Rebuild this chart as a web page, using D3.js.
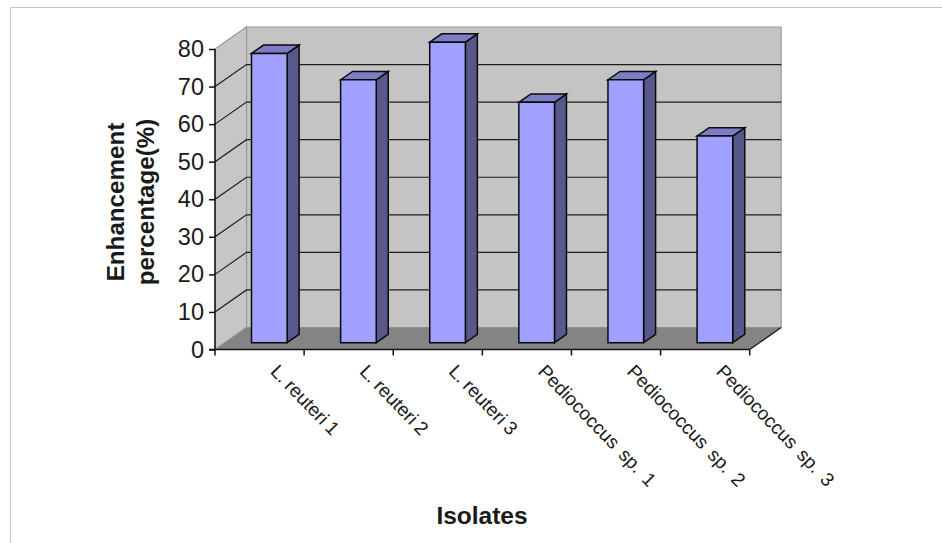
<!DOCTYPE html>
<html>
<head>
<meta charset="utf-8">
<script src="https://cdn.jsdelivr.net/npm/d3@7"></script>
<style>
  html, body { margin: 0; padding: 0; background: #fff; }
  svg { display: block; }
  text { font-family: "Liberation Sans", Arial, sans-serif; fill: #1a1a1a; }
</style>
</head>
<body>
<svg id="chart" width="942" height="543"></svg>
<script>
const isolates = ["L. reuteri 1", "L. reuteri 2", "L. reuteri 3",
                  "Pediococcus sp. 1", "Pediococcus sp. 2", "Pediococcus sp. 3"];
const enhancement = [77, 70, 80, 64, 70, 55];
const yTicks = [0, 10, 20, 30, 40, 50, 60, 70, 80];
const yTitleLines = ["Enhancement", "percentage(%)"];
const xTitle = "Isolates";

const svg = d3.select("#chart");

// Plot box: front plane plus a receding depth offset for the pseudo-3D look.
const plotL = 215, plotR = 749.7, plotB = 349.5, plotT = 49;
const depthX = 31.5, depthY = -22;

const x = d3.scaleBand().domain(isolates).range([plotL, plotR])
  .paddingInner(0.6).paddingOuter(0.3);
const y = d3.scaleLinear().domain([0, 80]).range([plotB, plotT]);
const dxOf = d3.scaleLinear().domain([0, 1]).range([0, depthX]);
const dyOf = d3.scaleLinear().domain([0, 1]).range([0, depthY]);
const pts = a => a.map(p => p.join(",")).join(" ");

// Page frame lines
svg.append("path").attr("d", "M10.5,543V7.5H942")
  .attr("fill", "none").attr("stroke", "#c4c4c4").attr("stroke-width", 1);

// Back wall and side wall
svg.append("polygon")
  .attr("points", pts([[plotL + depthX, plotT + depthY], [plotR + depthX, plotT + depthY],
                       [plotR + depthX, plotB + depthY], [plotL + depthX, plotB + depthY]]))
  .attr("fill", "#c4c4c4").attr("stroke", "#9a9a9a").attr("stroke-width", 1.2);
svg.append("polygon")
  .attr("points", pts([[plotL, plotT], [plotL + depthX, plotT + depthY],
                       [plotL + depthX, plotB + depthY], [plotL, plotB]]))
  .attr("fill", "#c6c6c6").attr("stroke", "#9a9a9a").attr("stroke-width", 1.2);

// Gridlines wrap from the side wall onto the back wall
const gridTicks = yTicks.filter(t => t > 0 && t < 80);
svg.append("g").selectAll("path").data(gridTicks).join("path")
  .attr("d", t => `M${plotL},${y(t)}L${plotL + depthX},${y(t) + depthY}H${plotR + depthX}`)
  .attr("fill", "none").attr("stroke", "#1c1c1c").attr("stroke-width", 1.2);

// Floor
svg.append("polygon")
  .attr("points", pts([[plotL, plotB], [plotR, plotB],
                       [plotR + depthX, plotB + depthY], [plotL + depthX, plotB + depthY]]))
  .attr("fill", "#848484");
svg.append("path")
  .attr("d", `M${plotR},${plotB}L${plotR + depthX},${plotB + depthY}`)
  .attr("stroke", "#111").attr("stroke-width", 1.2).attr("fill", "none");

// Bars sit between 31% and 69% of the floor depth
const frontD = 0.31, backD = 0.69;
const bars = svg.append("g").selectAll("g")
  .data(isolates.map((name, i) => ({ name, value: enhancement[i] })))
  .join("g")
  .attr("stroke", "#0a0a0a").attr("stroke-width", 1.5).attr("stroke-linejoin", "miter");

const fx0 = d => x(d.name) + dxOf(frontD);
const fx1 = d => fx0(d) + x.bandwidth();
const bx = () => dxOf(backD) - dxOf(frontD);
const fy = v => y(v) + dyOf(frontD);
const by = v => y(v) + dyOf(backD);

bars.append("polygon").attr("fill", "#58588c")
  .attr("points", d => pts([[fx1(d), fy(d.value)], [fx1(d) + bx(), by(d.value)],
                            [fx1(d) + bx(), by(0)], [fx1(d), fy(0)]]));
bars.append("polygon").attr("fill", "#7d7dc6")
  .attr("points", d => pts([[fx0(d), fy(d.value)], [fx0(d) + bx(), by(d.value)],
                            [fx1(d) + bx(), by(d.value)], [fx1(d), fy(d.value)]]));
bars.append("polygon").attr("fill", "#a0a0ff")
  .attr("points", d => pts([[fx0(d), fy(d.value)], [fx1(d), fy(d.value)],
                            [fx1(d), fy(0)], [fx0(d), fy(0)]]));

// Y axis
const yAxis = svg.append("g").attr("transform", `translate(${plotL},0)`)
  .call(d3.axisLeft(y).tickValues(yTicks).tickSize(6).tickPadding(5).tickFormat(d3.format("d")));
yAxis.selectAll("path,line").attr("stroke", "#111").attr("stroke-width", 1.5);
yAxis.select(".domain").attr("d", `M0,${plotT}V${plotB}`);
yAxis.selectAll("text").attr("font-size", 23.5).style("font-family", "'Liberation Sans', Arial, sans-serif");

// X axis: ticks mark the category boundaries
const step = x.step();
const boundaries = d3.range(isolates.length + 1);
svg.append("g").selectAll("line").data(boundaries).join("line")
  .attr("x1", i => plotL + i * step).attr("x2", i => plotL + i * step)
  .attr("y1", plotB).attr("y2", plotB + 6)
  .attr("stroke", "#111").attr("stroke-width", 1.5);
svg.append("line").attr("x1", plotL - 6).attr("x2", plotR)
  .attr("y1", plotB).attr("y2", plotB)
  .attr("stroke", "#111").attr("stroke-width", 1.5);

// Slanted category labels
svg.append("g").selectAll("text").data(isolates).join("text")
  .attr("transform", d => `translate(${x(d) + x.bandwidth() / 2 + 10},${plotB + 23}) rotate(46)`)
  .attr("font-size", 19)
  .attr("word-spacing", d => d.startsWith("L.") ? -1 : 3)
  .text(d => d);

// Axis titles
const yTitle = svg.append("text")
  .attr("transform", "translate(124,202) rotate(-90)")
  .attr("text-anchor", "middle").attr("font-size", 24.2).attr("font-weight", "bold");
yTitleLines.forEach((line, i) => {
  yTitle.append("tspan").attr("x", 0).attr("dy", i ? 30 : 0).text(line);
});
svg.append("text").attr("x", 482).attr("y", 524)
  .attr("text-anchor", "middle").attr("font-size", 24.5).attr("font-weight", "bold")
  .text(xTitle);
</script>
</body>
</html>
